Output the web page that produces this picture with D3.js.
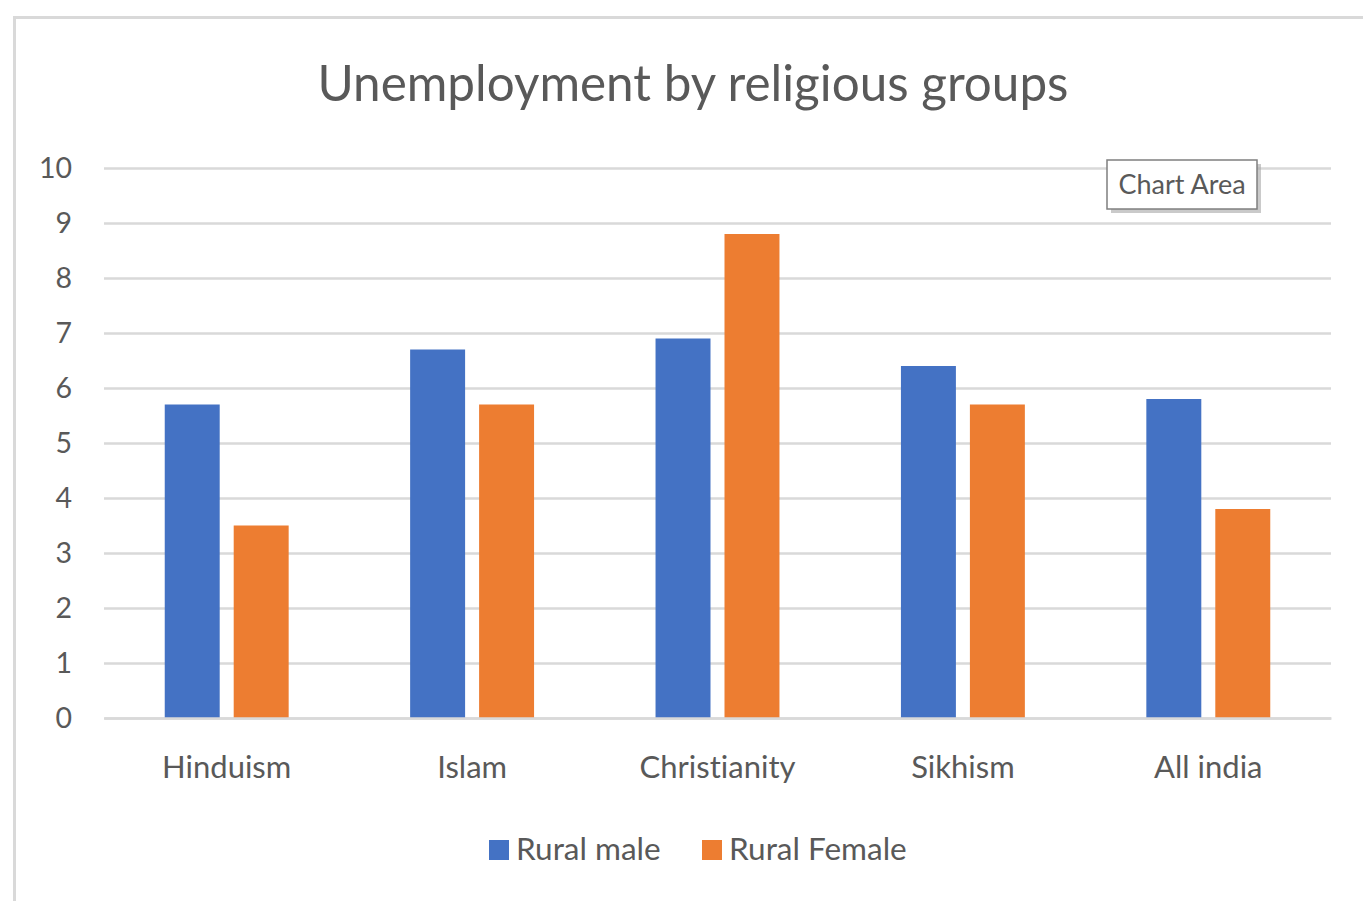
<!DOCTYPE html>
<html>
<head>
<meta charset="utf-8">
<script src="https://cdn.jsdelivr.net/npm/d3@7"></script>
<style>
  html, body { margin: 0; padding: 0; background: #fff; }
  svg { display: block; }
  text { font-family: "Lato", "Open Sans", sans-serif; fill: #595959; font-variant-ligatures: none; }
</style>
</head>
<body>
<svg id="chart" width="1363" height="901"></svg>
<script>
// Unemployment rates (%) by religious group
const categories = ["Hinduism", "Islam", "Christianity", "Sikhism", "All india"];
const seriesNames = ["Rural male", "Rural Female"];
const ruralMale = [5.7, 6.7, 6.9, 6.4, 5.8];
const ruralFemale = [3.5, 5.7, 8.8, 5.7, 3.8];
const yTicks = [0, 1, 2, 3, 4, 5, 6, 7, 8, 9, 10];
const colors = ["#4472C4", "#ED7D31"];
const titleText = "Unemployment by religious groups";

const svg = d3.select("#chart");
const W = 1363, H = 901;

// chart area frame
svg.append("path")
  .attr("d", `M14.5,${H} L14.5,17.5 L${W},17.5`)
  .attr("fill", "none")
  .attr("stroke", "#d9d9d9")
  .attr("stroke-width", 3);

const plot = { left: 104, right: 1331, top: 168, bottom: 718 };

const y = d3.scaleLinear().domain([0, 10]).range([plot.bottom, plot.top]);
const x0 = d3.scaleBand().domain(categories).range([plot.left, plot.right]).padding(0);
const groupW = x0.bandwidth() * 0.505;
const x1 = d3.scaleBand().domain(seriesNames).range([0, groupW]).paddingInner(0.203).paddingOuter(0);

// gridlines
const yAxis = d3.axisLeft(y).tickValues(yTicks).tickSize(-(plot.right - plot.left)).tickPadding(32);
const gy = svg.append("g").attr("transform", `translate(${plot.left},0)`).call(yAxis);
gy.select(".domain").remove();
gy.selectAll(".tick line").attr("stroke", "#d9d9d9").attr("stroke-width", 2.5);
gy.selectAll(".tick text")
  .attr("font-size", 28.5)
  .attr("fill", "#595959")
  .attr("font-family", "Lato, 'Open Sans', sans-serif")
  .attr("dy", "0.35em");

// bars
const rows = categories.map((c, i) => ({ cat: c, vals: [ruralMale[i], ruralFemale[i]] }));
const groups = svg.append("g").selectAll("g").data(rows).join("g")
  .attr("transform", d => `translate(${x0(d.cat) + (x0.bandwidth() - groupW) / 2},0)`);
groups.selectAll("rect")
  .data(d => d.vals.map((v, k) => ({ key: seriesNames[k], v, k })))
  .join("rect")
  .attr("x", d => x1(d.key))
  .attr("width", x1.bandwidth())
  .attr("y", d => y(d.v))
  .attr("height", d => y(0) - y(d.v))
  .attr("fill", d => colors[d.k]);

// category axis
const xAxis = d3.axisBottom(x0).tickSize(0).tickPadding(38);
const gx = svg.append("g").attr("transform", `translate(0,${plot.bottom})`).call(xAxis);
gx.select(".domain").attr("stroke", "#d9d9d9").attr("stroke-width", 2.5);
gx.selectAll(".tick text")
  .attr("font-size", 31)
  .attr("fill", "#595959")
  .attr("font-family", "Lato, 'Open Sans', sans-serif");

// title
svg.append("text")
  .attr("x", 693).attr("y", 101)
  .attr("text-anchor", "middle")
  .attr("font-size", 49.4)
  .text(titleText);

// legend
const legend = svg.append("g").attr("transform", "translate(489,840)");
const legendX = [0, 213];
seriesNames.forEach((name, k) => {
  const g = legend.append("g").attr("transform", `translate(${legendX[k]},0)`);
  g.append("rect").attr("width", 20).attr("height", 20).attr("fill", colors[k]);
  g.append("text").attr("x", 27).attr("y", 20).attr("font-size", 31.5).text(name);
});

// hover label box
const tip = svg.append("g").attr("transform", "translate(1107,160)");
tip.append("rect").attr("x", 4).attr("y", 4).attr("width", 150).attr("height", 49).attr("fill", "#a6a6a6").attr("opacity", 0.6);
tip.append("rect").attr("width", 150).attr("height", 49).attr("fill", "#fff").attr("stroke", "#7f7f7f").attr("stroke-width", 1.5);
tip.append("text").attr("x", 75).attr("y", 34).attr("text-anchor", "middle").attr("font-size", 27).text("Chart Area");
</script>
</body>
</html>
